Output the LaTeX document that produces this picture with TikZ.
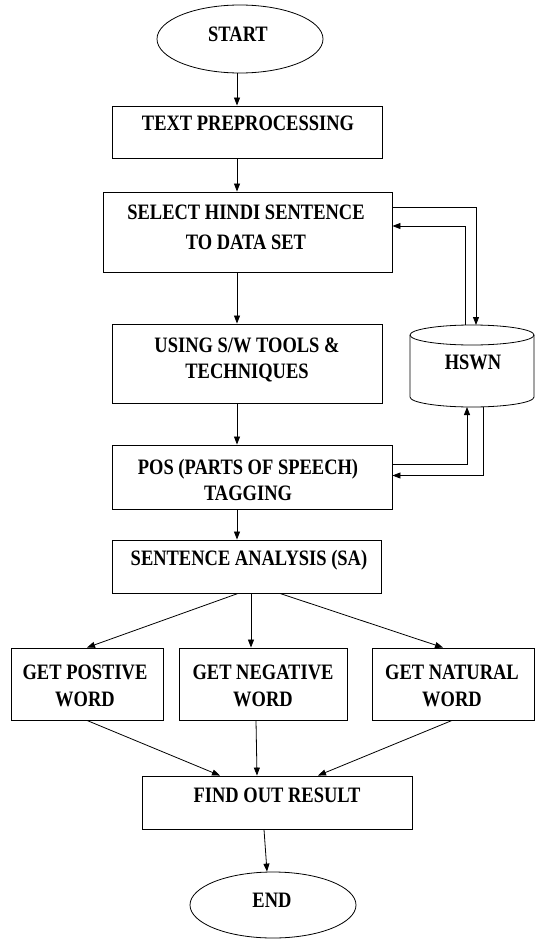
\documentclass[tikz,border=0pt]{standalone}
\usepackage{fontspec}
\setmainfont{Liberation Serif}[FakeStretch=0.84]
\usetikzlibrary{arrows.meta,shapes.geometric}
\begin{document}
\begin{tikzpicture}[x=1pt,y=-1pt,
  box/.style={draw,line width=0.9pt,inner sep=0pt,minimum width=#1},
  term/.style={draw,line width=0.8pt,ellipse,inner sep=0pt},
  lbl/.style={inner sep=0pt,align=center,font=\fontsize{22}{27}\selectfont\bfseries},
  arr/.style={line width=0.8pt,-{Triangle[length=8pt,width=6pt]}},
  ln/.style={line width=0.8pt}]
\useasboundingbox (0,0) rectangle (535,939);

% terminals
\node[term,minimum width=166pt,minimum height=68pt] (st) at (240,39) {};
\node[lbl] (stt) at (238,34) {START};
\node[term,minimum width=166pt,minimum height=66pt] (en) at (273,905) {};
\node[lbl] (ent) at (272,900) {END};

% process boxes
\node[box=270pt,minimum height=52pt] (tp) at (247,132) {};
\node[lbl] (tpt) at (248,123) {TEXT PREPROCESSING};
\node[box=289pt,minimum height=80pt] (sel) at (247.5,232) {};
\node[lbl,font=\fontsize{22}{30}\selectfont\bfseries] (selt) at (246,227) {SELECT HINDI SENTENCE\\TO DATA SET};
\node[box=270pt,minimum height=79pt] (use) at (247,363.5) {};
\node[lbl,font=\fontsize{22}{26}\selectfont\bfseries] (uset) at (247,360) {USING S/W TOOLS \&\\TECHNIQUES};
\node[box=280pt,minimum height=64pt] (pos) at (252,477) {};
\node[lbl,font=\fontsize{22}{26}\selectfont\bfseries] (post) at (248,480) {POS (PARTS OF SPEECH)\\TAGGING};
\node[box=269pt,minimum height=53pt] (sa) at (246.5,566.5) {};
\node[lbl] (sat) at (249,560) {SENTENCE ANALYSIS (SA)};

\node[box=152pt,minimum height=72pt] (gp) at (87,684) {};
\node[lbl] (gpt) at (85,685.5) {GET POSTIVE\\WORD};
\node[box=168pt,minimum height=72pt] (gn) at (263,684) {};
\node[lbl] (gnt) at (263,685.5) {GET NEGATIVE\\WORD};
\node[box=162pt,minimum height=72pt] (gt) at (453,684) {};
\node[lbl] (gtt) at (452,685.5) {GET NATURAL\\WORD};

\node[box=270pt,minimum height=53pt] (fr) at (277,802.5) {};
\node[lbl] (frt) at (277,795) {FIND OUT RESULT};

% HSWN database cylinder
\draw[ln] (472,335) ellipse [x radius=62pt,y radius=10pt];
\draw[ln] (410,335) -- (410,397) arc[start angle=180,end angle=360,x radius=62pt,y radius=10pt] -- (534,335);
\node[lbl] (hs) at (473,362) {HSWN};
\coordinate (hin1) at (476,325);
\coordinate (hout1) at (465,325);
\coordinate (hin2) at (467,407);
\coordinate (hout2) at (483,407);

% main flow
\coordinate (ax) at (237,0);
\draw[arr] (st.south -| ax) -- (tp.north -| ax);
\draw[arr] (tp.south -| ax) -- (sel.north -| ax);
\draw[arr] (sel.south -| ax) -- (use.north -| ax);
\draw[arr] (use.south -| ax) -- (pos.north -| ax);
\draw[arr] (pos.south -| ax) -- (sa.north -| ax);

% database links
\draw[arr] ([yshift=25pt]sel.east) -| (hin1);
\draw[arr] (hout1) |- ([yshift=6pt]sel.east);
\draw[arr] ([yshift=13pt]pos.east) -| (hin2);
\draw[arr] (hout2) |- ([yshift=1.5pt]pos.east);

% branches
\draw[arr] ([xshift=-8.5pt]sa.south) -- (gp.north);
\draw[arr] ([xshift=4.5pt]sa.south) -- (gn.north -| 251,0);
\draw[arr] ([xshift=33.5pt]sa.south) -- ([xshift=-10pt]gt.north);

% merge
\draw[arr] (gp.south) -- ([xshift=-57pt]fr.north);
\draw[arr] ([xshift=-7pt]gn.south) -- ([xshift=-20pt]fr.north);
\draw[arr] ([xshift=-1pt]gt.south) -- ([xshift=41pt]fr.north);
\draw[arr] ([xshift=-13pt]fr.south) -- ([xshift=-6pt]en.north);
\end{tikzpicture}
\end{document}
